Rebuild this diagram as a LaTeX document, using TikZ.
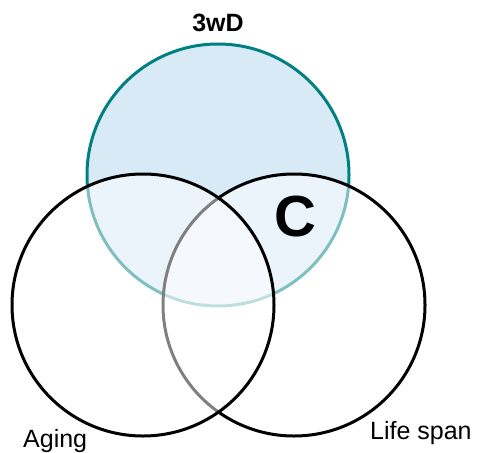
\documentclass[tikz,border=0pt]{standalone}
\usepackage{fontspec}
\setmainfont{Liberation Sans}
\begin{document}
\begin{tikzpicture}[x=1pt,y=-1pt,
  setbase/.style={circle, inner sep=0pt, minimum size=262pt, line width=3pt},
  topset/.style={setbase, draw={rgb,255:red,0;green,128;blue,128}, fill={rgb,255:red,217;green,234;blue,247}},
  sideset/.style={setbase, draw=black, fill=white, fill opacity=0.5, draw opacity=1},
  lbl/.style={font=\fontsize{25}{30}\selectfont, inner sep=0pt}
]
\useasboundingbox (0,0) rectangle (478,452);
% the three sets, drawn back to front
\node[topset]  (wd)   at (218,175) {};
\node[sideset] (life) at (294,305) {};
\node[sideset] (age)  at (143,305) {};
% labels
\node[lbl, font=\fontsize{25}{30}\selectfont\bfseries] (wdlbl) at (218,23) {3wD};
\node[lbl, anchor=base west] (agelbl) at (23,447) {Aging};
\node[lbl, anchor=base west] (lifelbl) at (370,439) {Life span};
\node[lbl, font=\fontsize{58}{60}\selectfont\bfseries] (c) at (295,217) {C};
\end{tikzpicture}
\end{document}
